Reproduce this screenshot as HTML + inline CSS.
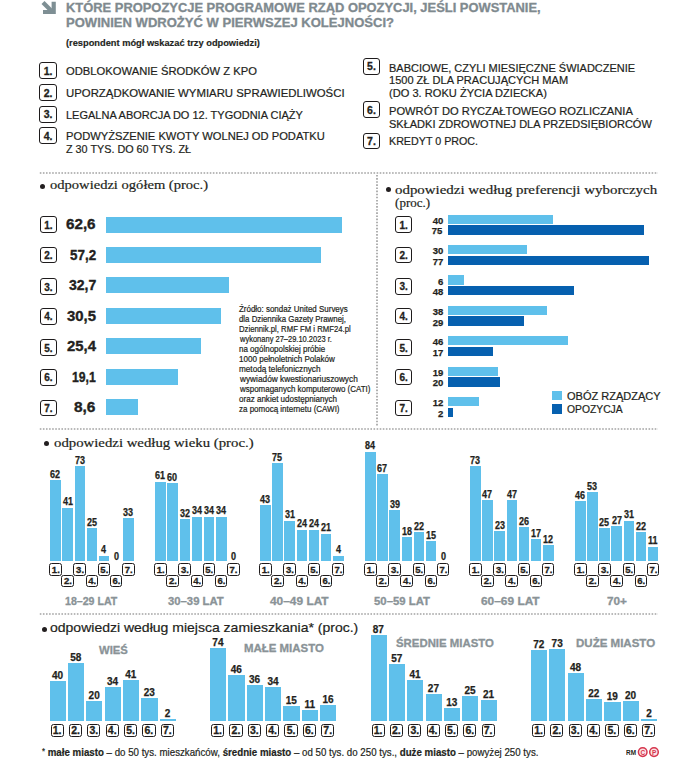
<!DOCTYPE html>
<html><head><meta charset="utf-8"><style>
html,body{margin:0;padding:0;background:#fff;}
body{width:675px;height:760px;position:relative;overflow:hidden;}
body>div[id]{position:absolute;white-space:nowrap}
.m{display:inline-block;width:0;height:0;vertical-align:baseline}
b{font-weight:bold}
</style></head><body>
<svg style="position:absolute;left:0;top:0" width="70" height="20"><polygon points="55.8,1.8 55.8,13.9 43,13.9 43,10 51.6,10 51.6,1.8" fill="#7e8f94"/><line x1="43" y1="2.5" x2="52" y2="11.5" stroke="#7e8f94" stroke-width="4.2"/></svg>
<div style="position:absolute;box-sizing:border-box;left:39.40px;top:62.20px;width:17.40px;height:17.20px;border:1.8px solid #1e1b1c;border-radius:3px;background:#fff"></div>
<div style="position:absolute;box-sizing:border-box;left:39.40px;top:84.00px;width:17.40px;height:17.00px;border:1.8px solid #1e1b1c;border-radius:3px;background:#fff"></div>
<div style="position:absolute;box-sizing:border-box;left:39.40px;top:105.80px;width:17.40px;height:17.00px;border:1.8px solid #1e1b1c;border-radius:3px;background:#fff"></div>
<div style="position:absolute;box-sizing:border-box;left:39.40px;top:127.20px;width:17.40px;height:17.00px;border:1.8px solid #1e1b1c;border-radius:3px;background:#fff"></div>
<div style="position:absolute;box-sizing:border-box;left:363.10px;top:58.00px;width:16.80px;height:16.60px;border:1.8px solid #1e1b1c;border-radius:3px;background:#fff"></div>
<div style="position:absolute;box-sizing:border-box;left:363.10px;top:101.40px;width:16.80px;height:16.80px;border:1.8px solid #1e1b1c;border-radius:3px;background:#fff"></div>
<div style="position:absolute;box-sizing:border-box;left:363.10px;top:132.60px;width:16.80px;height:16.00px;border:1.8px solid #1e1b1c;border-radius:3px;background:#fff"></div>
<svg style="position:absolute;left:0;top:171.00px" width="675" height="4"><line x1="39.80" y1="2" x2="658.00" y2="2" stroke="#a3a3a3" stroke-width="1.7" stroke-dasharray="1.6 1.490"/></svg>
<div style="position:absolute;left:39.60px;top:183.90px;width:5.4px;height:5.4px;border-radius:50%;background:#231f20"></div>
<div style="position:absolute;box-sizing:border-box;left:40.20px;top:216.30px;width:16.80px;height:16.80px;border:1.8px solid #1e1b1c;border-radius:3px;background:#fff"></div>
<div style="position:absolute;left:105.60px;top:216.50px;width:236.19px;height:16.00px;background:#5fc0eb;"></div>
<div style="position:absolute;box-sizing:border-box;left:40.20px;top:246.60px;width:16.80px;height:16.80px;border:1.8px solid #1e1b1c;border-radius:3px;background:#fff"></div>
<div style="position:absolute;left:105.60px;top:246.95px;width:215.82px;height:16.00px;background:#5fc0eb;"></div>
<div style="position:absolute;box-sizing:border-box;left:40.20px;top:278.15px;width:16.80px;height:16.80px;border:1.8px solid #1e1b1c;border-radius:3px;background:#fff"></div>
<div style="position:absolute;left:105.60px;top:277.40px;width:123.38px;height:16.00px;background:#5fc0eb;"></div>
<div style="position:absolute;box-sizing:border-box;left:40.20px;top:307.85px;width:16.80px;height:16.80px;border:1.8px solid #1e1b1c;border-radius:3px;background:#fff"></div>
<div style="position:absolute;left:105.60px;top:307.85px;width:115.08px;height:16.00px;background:#5fc0eb;"></div>
<div style="position:absolute;box-sizing:border-box;left:40.20px;top:339.35px;width:16.80px;height:16.80px;border:1.8px solid #1e1b1c;border-radius:3px;background:#fff"></div>
<div style="position:absolute;left:105.60px;top:338.30px;width:95.83px;height:16.00px;background:#5fc0eb;"></div>
<div style="position:absolute;box-sizing:border-box;left:40.20px;top:368.90px;width:16.80px;height:16.80px;border:1.8px solid #1e1b1c;border-radius:3px;background:#fff"></div>
<div style="position:absolute;left:105.60px;top:368.75px;width:72.06px;height:16.00px;background:#5fc0eb;"></div>
<div style="position:absolute;box-sizing:border-box;left:40.20px;top:399.70px;width:16.80px;height:16.80px;border:1.8px solid #1e1b1c;border-radius:3px;background:#fff"></div>
<div style="position:absolute;left:105.60px;top:399.20px;width:32.45px;height:16.00px;background:#5fc0eb;"></div>
<svg style="position:absolute;left:375.30px;top:0" width="4" height="760"><line x1="2" y1="175.00" x2="2" y2="427.00" stroke="#a3a3a3" stroke-width="1.7" stroke-dasharray="1.6 1.510"/></svg>
<div style="position:absolute;left:386.30px;top:187.00px;width:5.2px;height:5.2px;border-radius:50%;background:#231f20"></div>
<div style="position:absolute;box-sizing:border-box;left:395.30px;top:216.30px;width:17.00px;height:16.60px;border:1.8px solid #1e1b1c;border-radius:3px;background:#fff"></div>
<div style="position:absolute;left:448.10px;top:214.60px;width:104.60px;height:9.30px;background:#5fc0eb;"></div>
<div style="position:absolute;left:448.10px;top:225.20px;width:196.13px;height:9.40px;background:#0660af;"></div>
<div style="position:absolute;box-sizing:border-box;left:395.30px;top:246.60px;width:17.00px;height:16.60px;border:1.8px solid #1e1b1c;border-radius:3px;background:#fff"></div>
<div style="position:absolute;left:448.10px;top:245.00px;width:78.45px;height:9.30px;background:#5fc0eb;"></div>
<div style="position:absolute;left:448.10px;top:255.60px;width:201.36px;height:9.40px;background:#0660af;"></div>
<div style="position:absolute;box-sizing:border-box;left:395.30px;top:278.15px;width:17.00px;height:16.60px;border:1.8px solid #1e1b1c;border-radius:3px;background:#fff"></div>
<div style="position:absolute;left:448.10px;top:275.40px;width:15.69px;height:9.30px;background:#5fc0eb;"></div>
<div style="position:absolute;left:448.10px;top:286.00px;width:125.52px;height:9.40px;background:#0660af;"></div>
<div style="position:absolute;box-sizing:border-box;left:395.30px;top:307.85px;width:17.00px;height:16.60px;border:1.8px solid #1e1b1c;border-radius:3px;background:#fff"></div>
<div style="position:absolute;left:448.10px;top:305.80px;width:99.37px;height:9.30px;background:#5fc0eb;"></div>
<div style="position:absolute;left:448.10px;top:316.40px;width:75.84px;height:9.40px;background:#0660af;"></div>
<div style="position:absolute;box-sizing:border-box;left:395.30px;top:339.35px;width:17.00px;height:16.60px;border:1.8px solid #1e1b1c;border-radius:3px;background:#fff"></div>
<div style="position:absolute;left:448.10px;top:336.20px;width:120.29px;height:9.30px;background:#5fc0eb;"></div>
<div style="position:absolute;left:448.10px;top:346.80px;width:44.46px;height:9.40px;background:#0660af;"></div>
<div style="position:absolute;box-sizing:border-box;left:395.30px;top:368.90px;width:17.00px;height:16.60px;border:1.8px solid #1e1b1c;border-radius:3px;background:#fff"></div>
<div style="position:absolute;left:448.10px;top:366.60px;width:49.69px;height:9.30px;background:#5fc0eb;"></div>
<div style="position:absolute;left:448.10px;top:377.20px;width:52.30px;height:9.40px;background:#0660af;"></div>
<div style="position:absolute;box-sizing:border-box;left:395.30px;top:399.70px;width:17.00px;height:16.60px;border:1.8px solid #1e1b1c;border-radius:3px;background:#fff"></div>
<div style="position:absolute;left:448.10px;top:397.00px;width:31.38px;height:9.30px;background:#5fc0eb;"></div>
<div style="position:absolute;left:448.10px;top:407.60px;width:5.23px;height:9.40px;background:#0660af;"></div>
<div style="position:absolute;left:552.00px;top:391.00px;width:9.60px;height:9.40px;background:#5fc0eb;"></div>
<div style="position:absolute;left:552.00px;top:404.40px;width:9.60px;height:9.60px;background:#0660af;"></div>
<svg style="position:absolute;left:0;top:426.60px" width="675" height="4"><line x1="39.80" y1="2" x2="658.00" y2="2" stroke="#a3a3a3" stroke-width="1.7" stroke-dasharray="1.6 1.490"/></svg>
<div style="position:absolute;left:43.70px;top:440.80px;width:5.2px;height:5.2px;border-radius:50%;background:#231f20"></div>
<div style="position:absolute;left:50.30px;top:480.20px;width:10.60px;height:80.60px;background:#5fc0eb;"></div>
<div style="position:absolute;box-sizing:border-box;left:49.20px;top:563.20px;width:12.60px;height:12.60px;border:1.6px solid #1e1b1c;border-radius:2.5px;background:#fff"></div>
<div style="position:absolute;left:62.43px;top:507.50px;width:10.60px;height:53.30px;background:#5fc0eb;"></div>
<div style="position:absolute;box-sizing:border-box;left:61.33px;top:574.50px;width:12.60px;height:12.60px;border:1.6px solid #1e1b1c;border-radius:2.5px;background:#fff"></div>
<div style="position:absolute;left:74.56px;top:465.90px;width:10.60px;height:94.90px;background:#5fc0eb;"></div>
<div style="position:absolute;box-sizing:border-box;left:73.46px;top:563.20px;width:12.60px;height:12.60px;border:1.6px solid #1e1b1c;border-radius:2.5px;background:#fff"></div>
<div style="position:absolute;left:86.69px;top:528.30px;width:10.60px;height:32.50px;background:#5fc0eb;"></div>
<div style="position:absolute;box-sizing:border-box;left:85.59px;top:574.50px;width:12.60px;height:12.60px;border:1.6px solid #1e1b1c;border-radius:2.5px;background:#fff"></div>
<div style="position:absolute;left:98.82px;top:555.60px;width:10.60px;height:5.20px;background:#5fc0eb;"></div>
<div style="position:absolute;box-sizing:border-box;left:97.72px;top:563.20px;width:12.60px;height:12.60px;border:1.6px solid #1e1b1c;border-radius:2.5px;background:#fff"></div>
<div style="position:absolute;box-sizing:border-box;left:109.85px;top:574.50px;width:12.60px;height:12.60px;border:1.6px solid #1e1b1c;border-radius:2.5px;background:#fff"></div>
<div style="position:absolute;left:123.08px;top:517.90px;width:10.60px;height:42.90px;background:#5fc0eb;"></div>
<div style="position:absolute;box-sizing:border-box;left:121.98px;top:563.20px;width:12.60px;height:12.60px;border:1.6px solid #1e1b1c;border-radius:2.5px;background:#fff"></div>
<div style="position:absolute;left:155.26px;top:481.50px;width:10.60px;height:79.30px;background:#5fc0eb;"></div>
<div style="position:absolute;box-sizing:border-box;left:154.16px;top:563.20px;width:12.60px;height:12.60px;border:1.6px solid #1e1b1c;border-radius:2.5px;background:#fff"></div>
<div style="position:absolute;left:167.39px;top:482.80px;width:10.60px;height:78.00px;background:#5fc0eb;"></div>
<div style="position:absolute;box-sizing:border-box;left:166.29px;top:574.50px;width:12.60px;height:12.60px;border:1.6px solid #1e1b1c;border-radius:2.5px;background:#fff"></div>
<div style="position:absolute;left:179.52px;top:519.20px;width:10.60px;height:41.60px;background:#5fc0eb;"></div>
<div style="position:absolute;box-sizing:border-box;left:178.42px;top:563.20px;width:12.60px;height:12.60px;border:1.6px solid #1e1b1c;border-radius:2.5px;background:#fff"></div>
<div style="position:absolute;left:191.65px;top:516.60px;width:10.60px;height:44.20px;background:#5fc0eb;"></div>
<div style="position:absolute;box-sizing:border-box;left:190.55px;top:574.50px;width:12.60px;height:12.60px;border:1.6px solid #1e1b1c;border-radius:2.5px;background:#fff"></div>
<div style="position:absolute;left:203.78px;top:516.60px;width:10.60px;height:44.20px;background:#5fc0eb;"></div>
<div style="position:absolute;box-sizing:border-box;left:202.68px;top:563.20px;width:12.60px;height:12.60px;border:1.6px solid #1e1b1c;border-radius:2.5px;background:#fff"></div>
<div style="position:absolute;left:215.91px;top:516.60px;width:10.60px;height:44.20px;background:#5fc0eb;"></div>
<div style="position:absolute;box-sizing:border-box;left:214.81px;top:574.50px;width:12.60px;height:12.60px;border:1.6px solid #1e1b1c;border-radius:2.5px;background:#fff"></div>
<div style="position:absolute;box-sizing:border-box;left:226.94px;top:563.20px;width:12.60px;height:12.60px;border:1.6px solid #1e1b1c;border-radius:2.5px;background:#fff"></div>
<div style="position:absolute;left:260.22px;top:504.90px;width:10.60px;height:55.90px;background:#5fc0eb;"></div>
<div style="position:absolute;box-sizing:border-box;left:259.12px;top:563.20px;width:12.60px;height:12.60px;border:1.6px solid #1e1b1c;border-radius:2.5px;background:#fff"></div>
<div style="position:absolute;left:272.35px;top:463.30px;width:10.60px;height:97.50px;background:#5fc0eb;"></div>
<div style="position:absolute;box-sizing:border-box;left:271.25px;top:574.50px;width:12.60px;height:12.60px;border:1.6px solid #1e1b1c;border-radius:2.5px;background:#fff"></div>
<div style="position:absolute;left:284.48px;top:520.50px;width:10.60px;height:40.30px;background:#5fc0eb;"></div>
<div style="position:absolute;box-sizing:border-box;left:283.38px;top:563.20px;width:12.60px;height:12.60px;border:1.6px solid #1e1b1c;border-radius:2.5px;background:#fff"></div>
<div style="position:absolute;left:296.61px;top:529.60px;width:10.60px;height:31.20px;background:#5fc0eb;"></div>
<div style="position:absolute;box-sizing:border-box;left:295.51px;top:574.50px;width:12.60px;height:12.60px;border:1.6px solid #1e1b1c;border-radius:2.5px;background:#fff"></div>
<div style="position:absolute;left:308.74px;top:529.60px;width:10.60px;height:31.20px;background:#5fc0eb;"></div>
<div style="position:absolute;box-sizing:border-box;left:307.64px;top:563.20px;width:12.60px;height:12.60px;border:1.6px solid #1e1b1c;border-radius:2.5px;background:#fff"></div>
<div style="position:absolute;left:320.87px;top:533.50px;width:10.60px;height:27.30px;background:#5fc0eb;"></div>
<div style="position:absolute;box-sizing:border-box;left:319.77px;top:574.50px;width:12.60px;height:12.60px;border:1.6px solid #1e1b1c;border-radius:2.5px;background:#fff"></div>
<div style="position:absolute;left:333.00px;top:555.60px;width:10.60px;height:5.20px;background:#5fc0eb;"></div>
<div style="position:absolute;box-sizing:border-box;left:331.90px;top:563.20px;width:12.60px;height:12.60px;border:1.6px solid #1e1b1c;border-radius:2.5px;background:#fff"></div>
<div style="position:absolute;left:365.18px;top:451.60px;width:10.60px;height:109.20px;background:#5fc0eb;"></div>
<div style="position:absolute;box-sizing:border-box;left:364.08px;top:563.20px;width:12.60px;height:12.60px;border:1.6px solid #1e1b1c;border-radius:2.5px;background:#fff"></div>
<div style="position:absolute;left:377.31px;top:473.70px;width:10.60px;height:87.10px;background:#5fc0eb;"></div>
<div style="position:absolute;box-sizing:border-box;left:376.21px;top:574.50px;width:12.60px;height:12.60px;border:1.6px solid #1e1b1c;border-radius:2.5px;background:#fff"></div>
<div style="position:absolute;left:389.44px;top:510.10px;width:10.60px;height:50.70px;background:#5fc0eb;"></div>
<div style="position:absolute;box-sizing:border-box;left:388.34px;top:563.20px;width:12.60px;height:12.60px;border:1.6px solid #1e1b1c;border-radius:2.5px;background:#fff"></div>
<div style="position:absolute;left:401.57px;top:537.40px;width:10.60px;height:23.40px;background:#5fc0eb;"></div>
<div style="position:absolute;box-sizing:border-box;left:400.47px;top:574.50px;width:12.60px;height:12.60px;border:1.6px solid #1e1b1c;border-radius:2.5px;background:#fff"></div>
<div style="position:absolute;left:413.70px;top:532.20px;width:10.60px;height:28.60px;background:#5fc0eb;"></div>
<div style="position:absolute;box-sizing:border-box;left:412.60px;top:563.20px;width:12.60px;height:12.60px;border:1.6px solid #1e1b1c;border-radius:2.5px;background:#fff"></div>
<div style="position:absolute;left:425.83px;top:541.30px;width:10.60px;height:19.50px;background:#5fc0eb;"></div>
<div style="position:absolute;box-sizing:border-box;left:424.73px;top:574.50px;width:12.60px;height:12.60px;border:1.6px solid #1e1b1c;border-radius:2.5px;background:#fff"></div>
<div style="position:absolute;box-sizing:border-box;left:436.86px;top:563.20px;width:12.60px;height:12.60px;border:1.6px solid #1e1b1c;border-radius:2.5px;background:#fff"></div>
<div style="position:absolute;left:470.14px;top:465.90px;width:10.60px;height:94.90px;background:#5fc0eb;"></div>
<div style="position:absolute;box-sizing:border-box;left:469.04px;top:563.20px;width:12.60px;height:12.60px;border:1.6px solid #1e1b1c;border-radius:2.5px;background:#fff"></div>
<div style="position:absolute;left:482.27px;top:499.70px;width:10.60px;height:61.10px;background:#5fc0eb;"></div>
<div style="position:absolute;box-sizing:border-box;left:481.17px;top:574.50px;width:12.60px;height:12.60px;border:1.6px solid #1e1b1c;border-radius:2.5px;background:#fff"></div>
<div style="position:absolute;left:494.40px;top:530.90px;width:10.60px;height:29.90px;background:#5fc0eb;"></div>
<div style="position:absolute;box-sizing:border-box;left:493.30px;top:563.20px;width:12.60px;height:12.60px;border:1.6px solid #1e1b1c;border-radius:2.5px;background:#fff"></div>
<div style="position:absolute;left:506.53px;top:499.70px;width:10.60px;height:61.10px;background:#5fc0eb;"></div>
<div style="position:absolute;box-sizing:border-box;left:505.43px;top:574.50px;width:12.60px;height:12.60px;border:1.6px solid #1e1b1c;border-radius:2.5px;background:#fff"></div>
<div style="position:absolute;left:518.66px;top:527.00px;width:10.60px;height:33.80px;background:#5fc0eb;"></div>
<div style="position:absolute;box-sizing:border-box;left:517.56px;top:563.20px;width:12.60px;height:12.60px;border:1.6px solid #1e1b1c;border-radius:2.5px;background:#fff"></div>
<div style="position:absolute;left:530.79px;top:538.70px;width:10.60px;height:22.10px;background:#5fc0eb;"></div>
<div style="position:absolute;box-sizing:border-box;left:529.69px;top:574.50px;width:12.60px;height:12.60px;border:1.6px solid #1e1b1c;border-radius:2.5px;background:#fff"></div>
<div style="position:absolute;left:542.92px;top:545.20px;width:10.60px;height:15.60px;background:#5fc0eb;"></div>
<div style="position:absolute;box-sizing:border-box;left:541.82px;top:563.20px;width:12.60px;height:12.60px;border:1.6px solid #1e1b1c;border-radius:2.5px;background:#fff"></div>
<div style="position:absolute;left:575.10px;top:501.00px;width:10.60px;height:59.80px;background:#5fc0eb;"></div>
<div style="position:absolute;box-sizing:border-box;left:574.00px;top:563.20px;width:12.60px;height:12.60px;border:1.6px solid #1e1b1c;border-radius:2.5px;background:#fff"></div>
<div style="position:absolute;left:587.23px;top:491.90px;width:10.60px;height:68.90px;background:#5fc0eb;"></div>
<div style="position:absolute;box-sizing:border-box;left:586.13px;top:574.50px;width:12.60px;height:12.60px;border:1.6px solid #1e1b1c;border-radius:2.5px;background:#fff"></div>
<div style="position:absolute;left:599.36px;top:528.30px;width:10.60px;height:32.50px;background:#5fc0eb;"></div>
<div style="position:absolute;box-sizing:border-box;left:598.26px;top:563.20px;width:12.60px;height:12.60px;border:1.6px solid #1e1b1c;border-radius:2.5px;background:#fff"></div>
<div style="position:absolute;left:611.49px;top:525.70px;width:10.60px;height:35.10px;background:#5fc0eb;"></div>
<div style="position:absolute;box-sizing:border-box;left:610.39px;top:574.50px;width:12.60px;height:12.60px;border:1.6px solid #1e1b1c;border-radius:2.5px;background:#fff"></div>
<div style="position:absolute;left:623.62px;top:520.50px;width:10.60px;height:40.30px;background:#5fc0eb;"></div>
<div style="position:absolute;box-sizing:border-box;left:622.52px;top:563.20px;width:12.60px;height:12.60px;border:1.6px solid #1e1b1c;border-radius:2.5px;background:#fff"></div>
<div style="position:absolute;left:635.75px;top:532.20px;width:10.60px;height:28.60px;background:#5fc0eb;"></div>
<div style="position:absolute;box-sizing:border-box;left:634.65px;top:574.50px;width:12.60px;height:12.60px;border:1.6px solid #1e1b1c;border-radius:2.5px;background:#fff"></div>
<div style="position:absolute;left:647.88px;top:546.50px;width:10.60px;height:14.30px;background:#5fc0eb;"></div>
<div style="position:absolute;box-sizing:border-box;left:646.78px;top:563.20px;width:12.60px;height:12.60px;border:1.6px solid #1e1b1c;border-radius:2.5px;background:#fff"></div>
<svg style="position:absolute;left:0;top:612.20px" width="675" height="4"><line x1="39.80" y1="2" x2="658.00" y2="2" stroke="#a3a3a3" stroke-width="1.7" stroke-dasharray="1.6 1.490"/></svg>
<div style="position:absolute;left:41.60px;top:626.70px;width:5.0px;height:5.0px;border-radius:50%;background:#231f20"></div>
<div style="position:absolute;left:49.60px;top:681.20px;width:16.20px;height:39.40px;background:#5fc0eb;"></div>
<div style="position:absolute;box-sizing:border-box;left:50.60px;top:723.90px;width:13.20px;height:12.70px;border:1.6px solid #1e1b1c;border-radius:2.5px;background:#fff"></div>
<div style="position:absolute;left:67.95px;top:663.47px;width:16.20px;height:57.13px;background:#5fc0eb;"></div>
<div style="position:absolute;box-sizing:border-box;left:68.95px;top:723.90px;width:13.20px;height:12.70px;border:1.6px solid #1e1b1c;border-radius:2.5px;background:#fff"></div>
<div style="position:absolute;left:86.30px;top:700.90px;width:16.20px;height:19.70px;background:#5fc0eb;"></div>
<div style="position:absolute;box-sizing:border-box;left:87.30px;top:723.90px;width:13.20px;height:12.70px;border:1.6px solid #1e1b1c;border-radius:2.5px;background:#fff"></div>
<div style="position:absolute;left:104.65px;top:687.11px;width:16.20px;height:33.49px;background:#5fc0eb;"></div>
<div style="position:absolute;box-sizing:border-box;left:105.65px;top:723.90px;width:13.20px;height:12.70px;border:1.6px solid #1e1b1c;border-radius:2.5px;background:#fff"></div>
<div style="position:absolute;left:123.00px;top:680.22px;width:16.20px;height:40.38px;background:#5fc0eb;"></div>
<div style="position:absolute;box-sizing:border-box;left:124.00px;top:723.90px;width:13.20px;height:12.70px;border:1.6px solid #1e1b1c;border-radius:2.5px;background:#fff"></div>
<div style="position:absolute;left:141.35px;top:697.95px;width:16.20px;height:22.66px;background:#5fc0eb;"></div>
<div style="position:absolute;box-sizing:border-box;left:142.35px;top:723.90px;width:13.20px;height:12.70px;border:1.6px solid #1e1b1c;border-radius:2.5px;background:#fff"></div>
<div style="position:absolute;left:159.70px;top:718.63px;width:16.20px;height:1.97px;background:#5fc0eb;"></div>
<div style="position:absolute;box-sizing:border-box;left:160.70px;top:723.90px;width:13.20px;height:12.70px;border:1.6px solid #1e1b1c;border-radius:2.5px;background:#fff"></div>
<div style="position:absolute;left:210.05px;top:647.71px;width:16.20px;height:72.89px;background:#5fc0eb;"></div>
<div style="position:absolute;box-sizing:border-box;left:211.05px;top:723.90px;width:13.20px;height:12.70px;border:1.6px solid #1e1b1c;border-radius:2.5px;background:#fff"></div>
<div style="position:absolute;left:228.40px;top:675.29px;width:16.20px;height:45.31px;background:#5fc0eb;"></div>
<div style="position:absolute;box-sizing:border-box;left:229.40px;top:723.90px;width:13.20px;height:12.70px;border:1.6px solid #1e1b1c;border-radius:2.5px;background:#fff"></div>
<div style="position:absolute;left:246.75px;top:685.14px;width:16.20px;height:35.46px;background:#5fc0eb;"></div>
<div style="position:absolute;box-sizing:border-box;left:247.75px;top:723.90px;width:13.20px;height:12.70px;border:1.6px solid #1e1b1c;border-radius:2.5px;background:#fff"></div>
<div style="position:absolute;left:265.10px;top:687.11px;width:16.20px;height:33.49px;background:#5fc0eb;"></div>
<div style="position:absolute;box-sizing:border-box;left:266.10px;top:723.90px;width:13.20px;height:12.70px;border:1.6px solid #1e1b1c;border-radius:2.5px;background:#fff"></div>
<div style="position:absolute;left:283.45px;top:705.83px;width:16.20px;height:14.78px;background:#5fc0eb;"></div>
<div style="position:absolute;box-sizing:border-box;left:284.45px;top:723.90px;width:13.20px;height:12.70px;border:1.6px solid #1e1b1c;border-radius:2.5px;background:#fff"></div>
<div style="position:absolute;left:301.80px;top:709.76px;width:16.20px;height:10.83px;background:#5fc0eb;"></div>
<div style="position:absolute;box-sizing:border-box;left:302.80px;top:723.90px;width:13.20px;height:12.70px;border:1.6px solid #1e1b1c;border-radius:2.5px;background:#fff"></div>
<div style="position:absolute;left:320.15px;top:704.84px;width:16.20px;height:15.76px;background:#5fc0eb;"></div>
<div style="position:absolute;box-sizing:border-box;left:321.15px;top:723.90px;width:13.20px;height:12.70px;border:1.6px solid #1e1b1c;border-radius:2.5px;background:#fff"></div>
<div style="position:absolute;left:370.50px;top:634.90px;width:16.20px;height:85.69px;background:#5fc0eb;"></div>
<div style="position:absolute;box-sizing:border-box;left:371.50px;top:723.90px;width:13.20px;height:12.70px;border:1.6px solid #1e1b1c;border-radius:2.5px;background:#fff"></div>
<div style="position:absolute;left:388.85px;top:664.46px;width:16.20px;height:56.14px;background:#5fc0eb;"></div>
<div style="position:absolute;box-sizing:border-box;left:389.85px;top:723.90px;width:13.20px;height:12.70px;border:1.6px solid #1e1b1c;border-radius:2.5px;background:#fff"></div>
<div style="position:absolute;left:407.20px;top:680.22px;width:16.20px;height:40.38px;background:#5fc0eb;"></div>
<div style="position:absolute;box-sizing:border-box;left:408.20px;top:723.90px;width:13.20px;height:12.70px;border:1.6px solid #1e1b1c;border-radius:2.5px;background:#fff"></div>
<div style="position:absolute;left:425.55px;top:694.00px;width:16.20px;height:26.59px;background:#5fc0eb;"></div>
<div style="position:absolute;box-sizing:border-box;left:426.55px;top:723.90px;width:13.20px;height:12.70px;border:1.6px solid #1e1b1c;border-radius:2.5px;background:#fff"></div>
<div style="position:absolute;left:443.90px;top:707.80px;width:16.20px;height:12.80px;background:#5fc0eb;"></div>
<div style="position:absolute;box-sizing:border-box;left:444.90px;top:723.90px;width:13.20px;height:12.70px;border:1.6px solid #1e1b1c;border-radius:2.5px;background:#fff"></div>
<div style="position:absolute;left:462.25px;top:695.98px;width:16.20px;height:24.62px;background:#5fc0eb;"></div>
<div style="position:absolute;box-sizing:border-box;left:463.25px;top:723.90px;width:13.20px;height:12.70px;border:1.6px solid #1e1b1c;border-radius:2.5px;background:#fff"></div>
<div style="position:absolute;left:480.60px;top:699.92px;width:16.20px;height:20.68px;background:#5fc0eb;"></div>
<div style="position:absolute;box-sizing:border-box;left:481.60px;top:723.90px;width:13.20px;height:12.70px;border:1.6px solid #1e1b1c;border-radius:2.5px;background:#fff"></div>
<div style="position:absolute;left:530.95px;top:649.68px;width:16.20px;height:70.92px;background:#5fc0eb;"></div>
<div style="position:absolute;box-sizing:border-box;left:531.95px;top:723.90px;width:13.20px;height:12.70px;border:1.6px solid #1e1b1c;border-radius:2.5px;background:#fff"></div>
<div style="position:absolute;left:549.30px;top:648.70px;width:16.20px;height:71.91px;background:#5fc0eb;"></div>
<div style="position:absolute;box-sizing:border-box;left:550.30px;top:723.90px;width:13.20px;height:12.70px;border:1.6px solid #1e1b1c;border-radius:2.5px;background:#fff"></div>
<div style="position:absolute;left:567.65px;top:673.32px;width:16.20px;height:47.28px;background:#5fc0eb;"></div>
<div style="position:absolute;box-sizing:border-box;left:568.65px;top:723.90px;width:13.20px;height:12.70px;border:1.6px solid #1e1b1c;border-radius:2.5px;background:#fff"></div>
<div style="position:absolute;left:586.00px;top:698.93px;width:16.20px;height:21.67px;background:#5fc0eb;"></div>
<div style="position:absolute;box-sizing:border-box;left:587.00px;top:723.90px;width:13.20px;height:12.70px;border:1.6px solid #1e1b1c;border-radius:2.5px;background:#fff"></div>
<div style="position:absolute;left:604.35px;top:701.88px;width:16.20px;height:18.71px;background:#5fc0eb;"></div>
<div style="position:absolute;box-sizing:border-box;left:605.35px;top:723.90px;width:13.20px;height:12.70px;border:1.6px solid #1e1b1c;border-radius:2.5px;background:#fff"></div>
<div style="position:absolute;left:622.70px;top:700.90px;width:16.20px;height:19.70px;background:#5fc0eb;"></div>
<div style="position:absolute;box-sizing:border-box;left:623.70px;top:723.90px;width:13.20px;height:12.70px;border:1.6px solid #1e1b1c;border-radius:2.5px;background:#fff"></div>
<div style="position:absolute;left:641.05px;top:718.63px;width:16.20px;height:1.97px;background:#5fc0eb;"></div>
<div style="position:absolute;box-sizing:border-box;left:642.05px;top:723.90px;width:13.20px;height:12.70px;border:1.6px solid #1e1b1c;border-radius:2.5px;background:#fff"></div>
<svg style="position:absolute;left:636px;top:745px" width="25" height="15"><circle cx="6.7" cy="7.1" r="4.3" fill="#fbe3e6" stroke="#d6364d" stroke-width="1.5"/><circle cx="18" cy="7.1" r="4.3" fill="#fbe3e6" stroke="#d6364d" stroke-width="1.5"/><text x="6.8" y="9.6" font-family="Liberation Sans" font-weight="bold" font-size="6.5" fill="#d6364d" text-anchor="middle">C</text><text x="18.2" y="9.6" font-family="Liberation Sans" font-weight="bold" font-size="6.5" fill="#d6364d" text-anchor="middle">P</text></svg>
<div id="t0" style="left:66.20px;top:2.11px;font:bold 12px/12px 'Liberation Sans', sans-serif;color:#7f8a8f;transform:scaleX(1.0759);transform-origin:0 0;-webkit-text-stroke:0.3px #7f8a8f;">KTÓRE PROPOZYCJE PROGRAMOWE RZĄD OPOZYCJI, JEŚLI POWSTANIE,</div>
<div id="t1" style="left:66.20px;top:17.11px;font:bold 12px/12px 'Liberation Sans', sans-serif;color:#7f8a8f;transform:scaleX(1.0870);transform-origin:0 0;-webkit-text-stroke:0.3px #7f8a8f;">POWINIEN WDROŻYĆ W PIERWSZEJ KOLEJNOŚCI?</div>
<div id="t2" style="left:65.60px;top:38.61px;font:bold 9px/9px 'Liberation Sans', sans-serif;color:#231f20;transform:scaleX(1.0307);transform-origin:0 0;-webkit-text-stroke:0.15px #231f20;">(respondent mógł wskazać trzy odpowiedzi)</div>
<div id="t3" style="left:43.68px;top:65.71px;font:bold 10.5px/10.5px 'Liberation Sans', sans-serif;color:#231f20;-webkit-text-stroke:0.3px #231f20;">1.</div>
<div id="t4" style="left:43.68px;top:87.50px;font:bold 10.5px/10.5px 'Liberation Sans', sans-serif;color:#231f20;-webkit-text-stroke:0.3px #231f20;">2.</div>
<div id="t5" style="left:43.68px;top:109.30px;font:bold 10.5px/10.5px 'Liberation Sans', sans-serif;color:#231f20;-webkit-text-stroke:0.3px #231f20;">3.</div>
<div id="t6" style="left:43.68px;top:130.71px;font:bold 10.5px/10.5px 'Liberation Sans', sans-serif;color:#231f20;-webkit-text-stroke:0.3px #231f20;">4.</div>
<div id="t7" style="left:65.50px;top:66.01px;font:normal 11px/11px 'Liberation Sans', sans-serif;color:#231f20;transform:scaleX(1.0198);transform-origin:0 0;-webkit-text-stroke:0.2px #231f20;">ODBLOKOWANIE ŚRODKÓW Z KPO</div>
<div id="t8" style="left:65.50px;top:87.90px;font:normal 11px/11px 'Liberation Sans', sans-serif;color:#231f20;transform:scaleX(1.0343);transform-origin:0 0;-webkit-text-stroke:0.2px #231f20;">UPORZĄDKOWANIE WYMIARU SPRAWIEDLIWOŚCI</div>
<div id="t9" style="left:65.50px;top:109.51px;font:normal 11px/11px 'Liberation Sans', sans-serif;color:#231f20;transform:scaleX(0.9993);transform-origin:0 0;-webkit-text-stroke:0.2px #231f20;">LEGALNA ABORCJA DO 12. TYGODNIA CIĄŻY</div>
<div id="t10" style="left:65.50px;top:130.71px;font:normal 11px/11px 'Liberation Sans', sans-serif;color:#231f20;transform:scaleX(1.0148);transform-origin:0 0;-webkit-text-stroke:0.2px #231f20;">PODWYŻSZENIE KWOTY WOLNEJ OD PODATKU</div>
<div id="t11" style="left:65.50px;top:143.60px;font:normal 11px/11px 'Liberation Sans', sans-serif;color:#231f20;transform:scaleX(0.9815);transform-origin:0 0;-webkit-text-stroke:0.2px #231f20;">Z 30 TYS. DO 60 TYS. ZŁ</div>
<div id="t12" style="left:367.08px;top:61.41px;font:bold 10.5px/10.5px 'Liberation Sans', sans-serif;color:#231f20;-webkit-text-stroke:0.3px #231f20;">5.</div>
<div id="t13" style="left:367.08px;top:105.00px;font:bold 10.5px/10.5px 'Liberation Sans', sans-serif;color:#231f20;-webkit-text-stroke:0.3px #231f20;">6.</div>
<div id="t14" style="left:367.08px;top:135.80px;font:bold 10.5px/10.5px 'Liberation Sans', sans-serif;color:#231f20;-webkit-text-stroke:0.3px #231f20;">7.</div>
<div id="t15" style="left:389.30px;top:62.71px;font:normal 11px/11px 'Liberation Sans', sans-serif;color:#231f20;transform:scaleX(0.9993);transform-origin:0 0;-webkit-text-stroke:0.2px #231f20;">BABCIOWE, CZYLI MIESIĘCZNE ŚWIADCZENIE</div>
<div id="t16" style="left:389.30px;top:75.31px;font:normal 11px/11px 'Liberation Sans', sans-serif;color:#231f20;transform:scaleX(1.0032);transform-origin:0 0;-webkit-text-stroke:0.2px #231f20;">1500 ZŁ DLA PRACUJĄCYCH MAM</div>
<div id="t17" style="left:389.30px;top:87.60px;font:normal 11px/11px 'Liberation Sans', sans-serif;color:#231f20;transform:scaleX(1.0089);transform-origin:0 0;-webkit-text-stroke:0.2px #231f20;">(DO 3. ROKU ŻYCIA DZIECKA)</div>
<div id="t18" style="left:389.30px;top:106.40px;font:normal 11px/11px 'Liberation Sans', sans-serif;color:#231f20;transform:scaleX(1.0125);transform-origin:0 0;-webkit-text-stroke:0.2px #231f20;">POWRÓT DO RYCZAŁTOWEGO ROZLICZANIA</div>
<div id="t19" style="left:389.30px;top:119.31px;font:normal 11px/11px 'Liberation Sans', sans-serif;color:#231f20;transform:scaleX(0.9998);transform-origin:0 0;-webkit-text-stroke:0.2px #231f20;">SKŁADKI ZDROWOTNEJ DLA PRZEDSIĘBIORCÓW</div>
<div id="t20" style="left:389.30px;top:135.90px;font:normal 11px/11px 'Liberation Sans', sans-serif;color:#231f20;transform:scaleX(0.9733);transform-origin:0 0;-webkit-text-stroke:0.2px #231f20;">KREDYT 0 PROC.</div>
<div id="t21" style="left:50.10px;top:178.01px;font:normal 13px/13px 'Liberation Serif', serif;color:#231f20;transform:scaleX(1.1198);transform-origin:0 0;-webkit-text-stroke:0.2px #231f20;">odpowiedzi ogółem (proc.)</div>
<div id="t22" style="left:44.32px;top:220.71px;font:bold 10px/10px 'Liberation Sans', sans-serif;color:#231f20;-webkit-text-stroke:0.3px #231f20;">1.</div>
<div id="t23" style="left:66.20px;top:217.31px;font:bold 14px/14px 'Liberation Sans', sans-serif;color:#231f20;transform:scaleX(1.0851);transform-origin:0 0;-webkit-text-stroke:0.35px #231f20;">62,6</div>
<div id="t24" style="left:44.32px;top:251.00px;font:bold 10px/10px 'Liberation Sans', sans-serif;color:#231f20;-webkit-text-stroke:0.3px #231f20;">2.</div>
<div id="t25" style="left:69.70px;top:247.76px;font:bold 14px/14px 'Liberation Sans', sans-serif;color:#231f20;transform:scaleX(0.9576);transform-origin:0 0;-webkit-text-stroke:0.35px #231f20;">57,2</div>
<div id="t26" style="left:44.32px;top:282.55px;font:bold 10px/10px 'Liberation Sans', sans-serif;color:#231f20;-webkit-text-stroke:0.3px #231f20;">3.</div>
<div id="t27" style="left:68.50px;top:278.20px;font:bold 14px/14px 'Liberation Sans', sans-serif;color:#231f20;transform:scaleX(1.0013);transform-origin:0 0;-webkit-text-stroke:0.35px #231f20;">32,7</div>
<div id="t28" style="left:44.32px;top:312.25px;font:bold 10px/10px 'Liberation Sans', sans-serif;color:#231f20;-webkit-text-stroke:0.3px #231f20;">4.</div>
<div id="t29" style="left:66.80px;top:308.65px;font:bold 14px/14px 'Liberation Sans', sans-serif;color:#231f20;transform:scaleX(1.0632);transform-origin:0 0;-webkit-text-stroke:0.35px #231f20;">30,5</div>
<div id="t30" style="left:44.32px;top:343.75px;font:bold 10px/10px 'Liberation Sans', sans-serif;color:#231f20;-webkit-text-stroke:0.3px #231f20;">5.</div>
<div id="t31" style="left:66.80px;top:339.11px;font:bold 14px/14px 'Liberation Sans', sans-serif;color:#231f20;transform:scaleX(1.0632);transform-origin:0 0;-webkit-text-stroke:0.35px #231f20;">25,4</div>
<div id="t32" style="left:44.32px;top:373.30px;font:bold 10px/10px 'Liberation Sans', sans-serif;color:#231f20;-webkit-text-stroke:0.3px #231f20;">6.</div>
<div id="t33" style="left:72.00px;top:369.56px;font:bold 14px/14px 'Liberation Sans', sans-serif;color:#231f20;transform:scaleX(0.8739);transform-origin:0 0;-webkit-text-stroke:0.35px #231f20;">19,1</div>
<div id="t34" style="left:44.32px;top:404.11px;font:bold 10px/10px 'Liberation Sans', sans-serif;color:#231f20;-webkit-text-stroke:0.3px #231f20;">7.</div>
<div id="t35" style="left:74.30px;top:400.01px;font:bold 14px/14px 'Liberation Sans', sans-serif;color:#231f20;transform:scaleX(1.1025);transform-origin:0 0;-webkit-text-stroke:0.35px #231f20;">8,6</div>
<div id="t36" style="left:239.00px;top:304.81px;font:normal 8.5px/8.5px 'Liberation Sans', sans-serif;color:#231f20;transform:scaleX(0.9355);transform-origin:0 0;-webkit-text-stroke:0.2px #231f20;">Źródło: sondaż United Surveys</div>
<div id="t37" style="left:239.00px;top:314.84px;font:normal 8.5px/8.5px 'Liberation Sans', sans-serif;color:#231f20;transform:scaleX(0.9237);transform-origin:0 0;-webkit-text-stroke:0.2px #231f20;">dla Dziennika Gazety Prawnej,</div>
<div id="t38" style="left:239.00px;top:324.85px;font:normal 8.5px/8.5px 'Liberation Sans', sans-serif;color:#231f20;transform:scaleX(0.9095);transform-origin:0 0;-webkit-text-stroke:0.2px #231f20;">Dziennik.pl, RMF FM i RMF24.pl</div>
<div id="t39" style="left:239.88px;top:334.87px;font:normal 8.5px/8.5px 'Liberation Sans', sans-serif;color:#231f20;transform:scaleX(0.8833);transform-origin:0 0;-webkit-text-stroke:0.2px #231f20;">wykonany 27–29.10.2023 r.</div>
<div id="t40" style="left:239.00px;top:344.89px;font:normal 8.5px/8.5px 'Liberation Sans', sans-serif;color:#231f20;transform:scaleX(0.9406);transform-origin:0 0;-webkit-text-stroke:0.2px #231f20;">na ogólnopolskiej próbie</div>
<div id="t41" style="left:239.00px;top:354.92px;font:normal 8.5px/8.5px 'Liberation Sans', sans-serif;color:#231f20;transform:scaleX(0.9480);transform-origin:0 0;-webkit-text-stroke:0.2px #231f20;">1000 pełnoletnich Polaków</div>
<div id="t42" style="left:239.00px;top:364.93px;font:normal 8.5px/8.5px 'Liberation Sans', sans-serif;color:#231f20;transform:scaleX(0.9629);transform-origin:0 0;-webkit-text-stroke:0.2px #231f20;">metodą telefonicznych</div>
<div id="t43" style="left:239.97px;top:374.95px;font:normal 8.5px/8.5px 'Liberation Sans', sans-serif;color:#231f20;transform:scaleX(0.9737);transform-origin:0 0;-webkit-text-stroke:0.2px #231f20;">wywiadów kwestionariuszowych</div>
<div id="t44" style="left:239.94px;top:384.96px;font:normal 8.5px/8.5px 'Liberation Sans', sans-serif;color:#231f20;transform:scaleX(0.9368);transform-origin:0 0;-webkit-text-stroke:0.2px #231f20;">wspomaganych komputerowo (CATI)</div>
<div id="t45" style="left:239.00px;top:394.99px;font:normal 8.5px/8.5px 'Liberation Sans', sans-serif;color:#231f20;transform:scaleX(0.9473);transform-origin:0 0;-webkit-text-stroke:0.2px #231f20;">oraz ankiet udostępnianych</div>
<div id="t46" style="left:239.00px;top:405.01px;font:normal 8.5px/8.5px 'Liberation Sans', sans-serif;color:#231f20;transform:scaleX(0.9403);transform-origin:0 0;-webkit-text-stroke:0.2px #231f20;">za pomocą internetu (CAWI)</div>
<div id="t47" style="left:395.10px;top:182.80px;font:normal 13px/13px 'Liberation Serif', serif;color:#231f20;transform:scaleX(1.1472);transform-origin:0 0;-webkit-text-stroke:0.2px #231f20;">odpowiedzi według preferencji wyborczych</div>
<div id="t48" style="left:395.10px;top:195.80px;font:normal 13px/13px 'Liberation Serif', serif;color:#231f20;-webkit-text-stroke:0.2px #231f20;">(proc.)</div>
<div id="t49" style="left:399.52px;top:220.61px;font:bold 10px/10px 'Liberation Sans', sans-serif;color:#231f20;-webkit-text-stroke:0.3px #231f20;">1.</div>
<div id="t50" style="left:432.81px;top:215.81px;font:bold 9.5px/9.5px 'Liberation Sans', sans-serif;color:#231f20;-webkit-text-stroke:0.25px #231f20;">40</div>
<div id="t51" style="left:431.81px;top:226.40px;font:bold 9.5px/9.5px 'Liberation Sans', sans-serif;color:#231f20;-webkit-text-stroke:0.25px #231f20;">75</div>
<div id="t52" style="left:399.52px;top:250.91px;font:bold 10px/10px 'Liberation Sans', sans-serif;color:#231f20;-webkit-text-stroke:0.3px #231f20;">2.</div>
<div id="t53" style="left:432.81px;top:246.22px;font:bold 9.5px/9.5px 'Liberation Sans', sans-serif;color:#231f20;-webkit-text-stroke:0.25px #231f20;">30</div>
<div id="t54" style="left:432.81px;top:256.81px;font:bold 9.5px/9.5px 'Liberation Sans', sans-serif;color:#231f20;-webkit-text-stroke:0.25px #231f20;">77</div>
<div id="t55" style="left:399.52px;top:282.46px;font:bold 10px/10px 'Liberation Sans', sans-serif;color:#231f20;-webkit-text-stroke:0.3px #231f20;">3.</div>
<div id="t56" style="left:438.09px;top:276.61px;font:bold 9.5px/9.5px 'Liberation Sans', sans-serif;color:#231f20;-webkit-text-stroke:0.25px #231f20;">6</div>
<div id="t57" style="left:432.81px;top:287.22px;font:bold 9.5px/9.5px 'Liberation Sans', sans-serif;color:#231f20;-webkit-text-stroke:0.25px #231f20;">48</div>
<div id="t58" style="left:399.52px;top:312.16px;font:bold 10px/10px 'Liberation Sans', sans-serif;color:#231f20;-webkit-text-stroke:0.3px #231f20;">4.</div>
<div id="t59" style="left:432.81px;top:307.02px;font:bold 9.5px/9.5px 'Liberation Sans', sans-serif;color:#231f20;-webkit-text-stroke:0.25px #231f20;">38</div>
<div id="t60" style="left:432.81px;top:317.61px;font:bold 9.5px/9.5px 'Liberation Sans', sans-serif;color:#231f20;-webkit-text-stroke:0.25px #231f20;">29</div>
<div id="t61" style="left:399.52px;top:343.66px;font:bold 10px/10px 'Liberation Sans', sans-serif;color:#231f20;-webkit-text-stroke:0.3px #231f20;">5.</div>
<div id="t62" style="left:432.81px;top:337.41px;font:bold 9.5px/9.5px 'Liberation Sans', sans-serif;color:#231f20;-webkit-text-stroke:0.25px #231f20;">46</div>
<div id="t63" style="left:432.81px;top:348.00px;font:bold 9.5px/9.5px 'Liberation Sans', sans-serif;color:#231f20;-webkit-text-stroke:0.25px #231f20;">17</div>
<div id="t64" style="left:399.52px;top:373.21px;font:bold 10px/10px 'Liberation Sans', sans-serif;color:#231f20;-webkit-text-stroke:0.3px #231f20;">6.</div>
<div id="t65" style="left:432.81px;top:367.81px;font:bold 9.5px/9.5px 'Liberation Sans', sans-serif;color:#231f20;-webkit-text-stroke:0.25px #231f20;">19</div>
<div id="t66" style="left:432.81px;top:378.40px;font:bold 9.5px/9.5px 'Liberation Sans', sans-serif;color:#231f20;-webkit-text-stroke:0.25px #231f20;">20</div>
<div id="t67" style="left:399.52px;top:404.00px;font:bold 10px/10px 'Liberation Sans', sans-serif;color:#231f20;-webkit-text-stroke:0.3px #231f20;">7.</div>
<div id="t68" style="left:432.81px;top:398.22px;font:bold 9.5px/9.5px 'Liberation Sans', sans-serif;color:#231f20;-webkit-text-stroke:0.25px #231f20;">12</div>
<div id="t69" style="left:438.09px;top:408.81px;font:bold 9.5px/9.5px 'Liberation Sans', sans-serif;color:#231f20;-webkit-text-stroke:0.25px #231f20;">2</div>
<div id="t70" style="left:567.00px;top:391.61px;font:normal 10px/10px 'Liberation Sans', sans-serif;color:#231f20;transform:scaleX(1.1014);transform-origin:0 0;-webkit-text-stroke:0.2px #231f20;">OBÓZ RZĄDZĄCY</div>
<div id="t71" style="left:567.00px;top:405.00px;font:normal 10px/10px 'Liberation Sans', sans-serif;color:#231f20;transform:scaleX(1.0325);transform-origin:0 0;-webkit-text-stroke:0.2px #231f20;">OPOZYCJA</div>
<div id="t72" style="left:53.70px;top:435.71px;font:normal 13px/13px 'Liberation Serif', serif;color:#231f20;transform:scaleX(1.1375);transform-origin:0 0;-webkit-text-stroke:0.2px #231f20;">odpowiedzi według wieku (proc.)</div>
<div id="t73" style="left:50.40px;top:470.00px;font:bold 10px/10px 'Liberation Sans', sans-serif;color:#231f20;transform:scaleX(0.9000);transform-origin:0 0;-webkit-text-stroke:0.25px #231f20;">62</div>
<div id="t74" style="left:51.85px;top:564.72px;font:bold 9.5px/9.5px 'Liberation Sans', sans-serif;color:#231f20;-webkit-text-stroke:0.3px #231f20;">1.</div>
<div id="t75" style="left:62.53px;top:497.30px;font:bold 10px/10px 'Liberation Sans', sans-serif;color:#231f20;transform:scaleX(0.9000);transform-origin:0 0;-webkit-text-stroke:0.25px #231f20;">41</div>
<div id="t76" style="left:63.98px;top:576.31px;font:bold 9.5px/9.5px 'Liberation Sans', sans-serif;color:#231f20;-webkit-text-stroke:0.3px #231f20;">2.</div>
<div id="t77" style="left:74.66px;top:455.71px;font:bold 10px/10px 'Liberation Sans', sans-serif;color:#231f20;transform:scaleX(0.9000);transform-origin:0 0;-webkit-text-stroke:0.25px #231f20;">73</div>
<div id="t78" style="left:76.11px;top:564.72px;font:bold 9.5px/9.5px 'Liberation Sans', sans-serif;color:#231f20;-webkit-text-stroke:0.3px #231f20;">3.</div>
<div id="t79" style="left:86.79px;top:518.11px;font:bold 10px/10px 'Liberation Sans', sans-serif;color:#231f20;transform:scaleX(0.9000);transform-origin:0 0;-webkit-text-stroke:0.25px #231f20;">25</div>
<div id="t80" style="left:88.24px;top:576.31px;font:bold 9.5px/9.5px 'Liberation Sans', sans-serif;color:#231f20;-webkit-text-stroke:0.3px #231f20;">4.</div>
<div id="t81" style="left:101.42px;top:545.41px;font:bold 10px/10px 'Liberation Sans', sans-serif;color:#231f20;transform:scaleX(0.9000);transform-origin:0 0;-webkit-text-stroke:0.25px #231f20;">4</div>
<div id="t82" style="left:100.37px;top:564.72px;font:bold 9.5px/9.5px 'Liberation Sans', sans-serif;color:#231f20;-webkit-text-stroke:0.3px #231f20;">5.</div>
<div id="t83" style="left:113.55px;top:552.30px;font:bold 10px/10px 'Liberation Sans', sans-serif;color:#231f20;transform:scaleX(0.9000);transform-origin:0 0;-webkit-text-stroke:0.25px #231f20;">0</div>
<div id="t84" style="left:112.50px;top:576.31px;font:bold 9.5px/9.5px 'Liberation Sans', sans-serif;color:#231f20;-webkit-text-stroke:0.3px #231f20;">6.</div>
<div id="t85" style="left:123.18px;top:507.71px;font:bold 10px/10px 'Liberation Sans', sans-serif;color:#231f20;transform:scaleX(0.9000);transform-origin:0 0;-webkit-text-stroke:0.25px #231f20;">33</div>
<div id="t86" style="left:124.63px;top:564.72px;font:bold 9.5px/9.5px 'Liberation Sans', sans-serif;color:#231f20;-webkit-text-stroke:0.3px #231f20;">7.</div>
<div id="t87" style="left:65.30px;top:595.50px;font:bold 10.5px/10.5px 'Liberation Sans', sans-serif;color:#8a9397;transform:scaleX(1.0108);transform-origin:0 0;-webkit-text-stroke:0.3px #8a9397;">18–29 LAT</div>
<div id="t88" style="left:155.36px;top:471.30px;font:bold 10px/10px 'Liberation Sans', sans-serif;color:#231f20;transform:scaleX(0.9000);transform-origin:0 0;-webkit-text-stroke:0.25px #231f20;">61</div>
<div id="t89" style="left:156.81px;top:564.72px;font:bold 9.5px/9.5px 'Liberation Sans', sans-serif;color:#231f20;-webkit-text-stroke:0.3px #231f20;">1.</div>
<div id="t90" style="left:167.49px;top:472.61px;font:bold 10px/10px 'Liberation Sans', sans-serif;color:#231f20;transform:scaleX(0.9000);transform-origin:0 0;-webkit-text-stroke:0.25px #231f20;">60</div>
<div id="t91" style="left:168.94px;top:576.31px;font:bold 9.5px/9.5px 'Liberation Sans', sans-serif;color:#231f20;-webkit-text-stroke:0.3px #231f20;">2.</div>
<div id="t92" style="left:179.62px;top:509.00px;font:bold 10px/10px 'Liberation Sans', sans-serif;color:#231f20;transform:scaleX(0.9000);transform-origin:0 0;-webkit-text-stroke:0.25px #231f20;">32</div>
<div id="t93" style="left:181.07px;top:564.72px;font:bold 9.5px/9.5px 'Liberation Sans', sans-serif;color:#231f20;-webkit-text-stroke:0.3px #231f20;">3.</div>
<div id="t94" style="left:191.75px;top:506.41px;font:bold 10px/10px 'Liberation Sans', sans-serif;color:#231f20;transform:scaleX(0.9000);transform-origin:0 0;-webkit-text-stroke:0.25px #231f20;">34</div>
<div id="t95" style="left:193.20px;top:576.31px;font:bold 9.5px/9.5px 'Liberation Sans', sans-serif;color:#231f20;-webkit-text-stroke:0.3px #231f20;">4.</div>
<div id="t96" style="left:203.88px;top:506.41px;font:bold 10px/10px 'Liberation Sans', sans-serif;color:#231f20;transform:scaleX(0.9000);transform-origin:0 0;-webkit-text-stroke:0.25px #231f20;">34</div>
<div id="t97" style="left:205.33px;top:564.72px;font:bold 9.5px/9.5px 'Liberation Sans', sans-serif;color:#231f20;-webkit-text-stroke:0.3px #231f20;">5.</div>
<div id="t98" style="left:216.01px;top:506.41px;font:bold 10px/10px 'Liberation Sans', sans-serif;color:#231f20;transform:scaleX(0.9000);transform-origin:0 0;-webkit-text-stroke:0.25px #231f20;">34</div>
<div id="t99" style="left:217.46px;top:576.31px;font:bold 9.5px/9.5px 'Liberation Sans', sans-serif;color:#231f20;-webkit-text-stroke:0.3px #231f20;">6.</div>
<div id="t100" style="left:230.64px;top:552.30px;font:bold 10px/10px 'Liberation Sans', sans-serif;color:#231f20;transform:scaleX(0.9000);transform-origin:0 0;-webkit-text-stroke:0.25px #231f20;">0</div>
<div id="t101" style="left:229.59px;top:564.72px;font:bold 9.5px/9.5px 'Liberation Sans', sans-serif;color:#231f20;-webkit-text-stroke:0.3px #231f20;">7.</div>
<div id="t102" style="left:168.40px;top:595.50px;font:bold 10.5px/10.5px 'Liberation Sans', sans-serif;color:#8a9397;transform:scaleX(1.0757);transform-origin:0 0;-webkit-text-stroke:0.3px #8a9397;">30–39 LAT</div>
<div id="t103" style="left:260.32px;top:494.71px;font:bold 10px/10px 'Liberation Sans', sans-serif;color:#231f20;transform:scaleX(0.9000);transform-origin:0 0;-webkit-text-stroke:0.25px #231f20;">43</div>
<div id="t104" style="left:261.77px;top:564.72px;font:bold 9.5px/9.5px 'Liberation Sans', sans-serif;color:#231f20;-webkit-text-stroke:0.3px #231f20;">1.</div>
<div id="t105" style="left:272.45px;top:453.11px;font:bold 10px/10px 'Liberation Sans', sans-serif;color:#231f20;transform:scaleX(0.9000);transform-origin:0 0;-webkit-text-stroke:0.25px #231f20;">75</div>
<div id="t106" style="left:273.90px;top:576.31px;font:bold 9.5px/9.5px 'Liberation Sans', sans-serif;color:#231f20;-webkit-text-stroke:0.3px #231f20;">2.</div>
<div id="t107" style="left:284.58px;top:510.30px;font:bold 10px/10px 'Liberation Sans', sans-serif;color:#231f20;transform:scaleX(0.9000);transform-origin:0 0;-webkit-text-stroke:0.25px #231f20;">31</div>
<div id="t108" style="left:286.03px;top:564.72px;font:bold 9.5px/9.5px 'Liberation Sans', sans-serif;color:#231f20;-webkit-text-stroke:0.3px #231f20;">3.</div>
<div id="t109" style="left:296.71px;top:519.41px;font:bold 10px/10px 'Liberation Sans', sans-serif;color:#231f20;transform:scaleX(0.9000);transform-origin:0 0;-webkit-text-stroke:0.25px #231f20;">24</div>
<div id="t110" style="left:298.16px;top:576.31px;font:bold 9.5px/9.5px 'Liberation Sans', sans-serif;color:#231f20;-webkit-text-stroke:0.3px #231f20;">4.</div>
<div id="t111" style="left:308.84px;top:519.41px;font:bold 10px/10px 'Liberation Sans', sans-serif;color:#231f20;transform:scaleX(0.9000);transform-origin:0 0;-webkit-text-stroke:0.25px #231f20;">24</div>
<div id="t112" style="left:310.29px;top:564.72px;font:bold 9.5px/9.5px 'Liberation Sans', sans-serif;color:#231f20;-webkit-text-stroke:0.3px #231f20;">5.</div>
<div id="t113" style="left:320.97px;top:523.30px;font:bold 10px/10px 'Liberation Sans', sans-serif;color:#231f20;transform:scaleX(0.9000);transform-origin:0 0;-webkit-text-stroke:0.25px #231f20;">21</div>
<div id="t114" style="left:322.42px;top:576.31px;font:bold 9.5px/9.5px 'Liberation Sans', sans-serif;color:#231f20;-webkit-text-stroke:0.3px #231f20;">6.</div>
<div id="t115" style="left:335.60px;top:545.41px;font:bold 10px/10px 'Liberation Sans', sans-serif;color:#231f20;transform:scaleX(0.9000);transform-origin:0 0;-webkit-text-stroke:0.25px #231f20;">4</div>
<div id="t116" style="left:334.55px;top:564.72px;font:bold 9.5px/9.5px 'Liberation Sans', sans-serif;color:#231f20;-webkit-text-stroke:0.3px #231f20;">7.</div>
<div id="t117" style="left:270.00px;top:595.50px;font:bold 10.5px/10.5px 'Liberation Sans', sans-serif;color:#8a9397;transform:scaleX(1.1331);transform-origin:0 0;-webkit-text-stroke:0.3px #8a9397;">40–49 LAT</div>
<div id="t118" style="left:365.28px;top:441.41px;font:bold 10px/10px 'Liberation Sans', sans-serif;color:#231f20;transform:scaleX(0.9000);transform-origin:0 0;-webkit-text-stroke:0.25px #231f20;">84</div>
<div id="t119" style="left:366.73px;top:564.72px;font:bold 9.5px/9.5px 'Liberation Sans', sans-serif;color:#231f20;-webkit-text-stroke:0.3px #231f20;">1.</div>
<div id="t120" style="left:377.41px;top:463.50px;font:bold 10px/10px 'Liberation Sans', sans-serif;color:#231f20;transform:scaleX(0.9000);transform-origin:0 0;-webkit-text-stroke:0.25px #231f20;">67</div>
<div id="t121" style="left:378.86px;top:576.31px;font:bold 9.5px/9.5px 'Liberation Sans', sans-serif;color:#231f20;-webkit-text-stroke:0.3px #231f20;">2.</div>
<div id="t122" style="left:389.54px;top:499.91px;font:bold 10px/10px 'Liberation Sans', sans-serif;color:#231f20;transform:scaleX(0.9000);transform-origin:0 0;-webkit-text-stroke:0.25px #231f20;">39</div>
<div id="t123" style="left:390.99px;top:564.72px;font:bold 9.5px/9.5px 'Liberation Sans', sans-serif;color:#231f20;-webkit-text-stroke:0.3px #231f20;">3.</div>
<div id="t124" style="left:401.67px;top:527.21px;font:bold 10px/10px 'Liberation Sans', sans-serif;color:#231f20;transform:scaleX(0.9000);transform-origin:0 0;-webkit-text-stroke:0.25px #231f20;">18</div>
<div id="t125" style="left:403.12px;top:576.31px;font:bold 9.5px/9.5px 'Liberation Sans', sans-serif;color:#231f20;-webkit-text-stroke:0.3px #231f20;">4.</div>
<div id="t126" style="left:413.80px;top:522.00px;font:bold 10px/10px 'Liberation Sans', sans-serif;color:#231f20;transform:scaleX(0.9000);transform-origin:0 0;-webkit-text-stroke:0.25px #231f20;">22</div>
<div id="t127" style="left:415.25px;top:564.72px;font:bold 9.5px/9.5px 'Liberation Sans', sans-serif;color:#231f20;-webkit-text-stroke:0.3px #231f20;">5.</div>
<div id="t128" style="left:425.93px;top:531.11px;font:bold 10px/10px 'Liberation Sans', sans-serif;color:#231f20;transform:scaleX(0.9000);transform-origin:0 0;-webkit-text-stroke:0.25px #231f20;">15</div>
<div id="t129" style="left:427.38px;top:576.31px;font:bold 9.5px/9.5px 'Liberation Sans', sans-serif;color:#231f20;-webkit-text-stroke:0.3px #231f20;">6.</div>
<div id="t130" style="left:440.56px;top:552.30px;font:bold 10px/10px 'Liberation Sans', sans-serif;color:#231f20;transform:scaleX(0.9000);transform-origin:0 0;-webkit-text-stroke:0.25px #231f20;">0</div>
<div id="t131" style="left:439.51px;top:564.72px;font:bold 9.5px/9.5px 'Liberation Sans', sans-serif;color:#231f20;-webkit-text-stroke:0.3px #231f20;">7.</div>
<div id="t132" style="left:374.20px;top:595.50px;font:bold 10.5px/10.5px 'Liberation Sans', sans-serif;color:#8a9397;transform:scaleX(1.0815);transform-origin:0 0;-webkit-text-stroke:0.3px #8a9397;">50–59 LAT</div>
<div id="t133" style="left:470.24px;top:455.71px;font:bold 10px/10px 'Liberation Sans', sans-serif;color:#231f20;transform:scaleX(0.9000);transform-origin:0 0;-webkit-text-stroke:0.25px #231f20;">73</div>
<div id="t134" style="left:471.69px;top:564.72px;font:bold 9.5px/9.5px 'Liberation Sans', sans-serif;color:#231f20;-webkit-text-stroke:0.3px #231f20;">1.</div>
<div id="t135" style="left:482.37px;top:489.50px;font:bold 10px/10px 'Liberation Sans', sans-serif;color:#231f20;transform:scaleX(0.9000);transform-origin:0 0;-webkit-text-stroke:0.25px #231f20;">47</div>
<div id="t136" style="left:483.82px;top:576.31px;font:bold 9.5px/9.5px 'Liberation Sans', sans-serif;color:#231f20;-webkit-text-stroke:0.3px #231f20;">2.</div>
<div id="t137" style="left:494.50px;top:520.71px;font:bold 10px/10px 'Liberation Sans', sans-serif;color:#231f20;transform:scaleX(0.9000);transform-origin:0 0;-webkit-text-stroke:0.25px #231f20;">23</div>
<div id="t138" style="left:495.95px;top:564.72px;font:bold 9.5px/9.5px 'Liberation Sans', sans-serif;color:#231f20;-webkit-text-stroke:0.3px #231f20;">3.</div>
<div id="t139" style="left:506.63px;top:489.50px;font:bold 10px/10px 'Liberation Sans', sans-serif;color:#231f20;transform:scaleX(0.9000);transform-origin:0 0;-webkit-text-stroke:0.25px #231f20;">47</div>
<div id="t140" style="left:508.08px;top:576.31px;font:bold 9.5px/9.5px 'Liberation Sans', sans-serif;color:#231f20;-webkit-text-stroke:0.3px #231f20;">4.</div>
<div id="t141" style="left:518.76px;top:516.80px;font:bold 10px/10px 'Liberation Sans', sans-serif;color:#231f20;transform:scaleX(0.9000);transform-origin:0 0;-webkit-text-stroke:0.25px #231f20;">26</div>
<div id="t142" style="left:520.21px;top:564.72px;font:bold 9.5px/9.5px 'Liberation Sans', sans-serif;color:#231f20;-webkit-text-stroke:0.3px #231f20;">5.</div>
<div id="t143" style="left:530.89px;top:528.50px;font:bold 10px/10px 'Liberation Sans', sans-serif;color:#231f20;transform:scaleX(0.9000);transform-origin:0 0;-webkit-text-stroke:0.25px #231f20;">17</div>
<div id="t144" style="left:532.34px;top:576.31px;font:bold 9.5px/9.5px 'Liberation Sans', sans-serif;color:#231f20;-webkit-text-stroke:0.3px #231f20;">6.</div>
<div id="t145" style="left:543.02px;top:535.00px;font:bold 10px/10px 'Liberation Sans', sans-serif;color:#231f20;transform:scaleX(0.9000);transform-origin:0 0;-webkit-text-stroke:0.25px #231f20;">12</div>
<div id="t146" style="left:544.47px;top:564.72px;font:bold 9.5px/9.5px 'Liberation Sans', sans-serif;color:#231f20;-webkit-text-stroke:0.3px #231f20;">7.</div>
<div id="t147" style="left:480.70px;top:595.50px;font:bold 10.5px/10.5px 'Liberation Sans', sans-serif;color:#8a9397;transform:scaleX(1.1331);transform-origin:0 0;-webkit-text-stroke:0.3px #8a9397;">60–69 LAT</div>
<div id="t148" style="left:575.20px;top:490.80px;font:bold 10px/10px 'Liberation Sans', sans-serif;color:#231f20;transform:scaleX(0.9000);transform-origin:0 0;-webkit-text-stroke:0.25px #231f20;">46</div>
<div id="t149" style="left:576.65px;top:564.72px;font:bold 9.5px/9.5px 'Liberation Sans', sans-serif;color:#231f20;-webkit-text-stroke:0.3px #231f20;">1.</div>
<div id="t150" style="left:587.33px;top:481.71px;font:bold 10px/10px 'Liberation Sans', sans-serif;color:#231f20;transform:scaleX(0.9000);transform-origin:0 0;-webkit-text-stroke:0.25px #231f20;">53</div>
<div id="t151" style="left:588.78px;top:576.31px;font:bold 9.5px/9.5px 'Liberation Sans', sans-serif;color:#231f20;-webkit-text-stroke:0.3px #231f20;">2.</div>
<div id="t152" style="left:599.46px;top:518.11px;font:bold 10px/10px 'Liberation Sans', sans-serif;color:#231f20;transform:scaleX(0.9000);transform-origin:0 0;-webkit-text-stroke:0.25px #231f20;">25</div>
<div id="t153" style="left:600.91px;top:564.72px;font:bold 9.5px/9.5px 'Liberation Sans', sans-serif;color:#231f20;-webkit-text-stroke:0.3px #231f20;">3.</div>
<div id="t154" style="left:611.59px;top:515.50px;font:bold 10px/10px 'Liberation Sans', sans-serif;color:#231f20;transform:scaleX(0.9000);transform-origin:0 0;-webkit-text-stroke:0.25px #231f20;">27</div>
<div id="t155" style="left:613.04px;top:576.31px;font:bold 9.5px/9.5px 'Liberation Sans', sans-serif;color:#231f20;-webkit-text-stroke:0.3px #231f20;">4.</div>
<div id="t156" style="left:623.72px;top:510.30px;font:bold 10px/10px 'Liberation Sans', sans-serif;color:#231f20;transform:scaleX(0.9000);transform-origin:0 0;-webkit-text-stroke:0.25px #231f20;">31</div>
<div id="t157" style="left:625.17px;top:564.72px;font:bold 9.5px/9.5px 'Liberation Sans', sans-serif;color:#231f20;-webkit-text-stroke:0.3px #231f20;">5.</div>
<div id="t158" style="left:635.85px;top:522.00px;font:bold 10px/10px 'Liberation Sans', sans-serif;color:#231f20;transform:scaleX(0.9000);transform-origin:0 0;-webkit-text-stroke:0.25px #231f20;">22</div>
<div id="t159" style="left:637.30px;top:576.31px;font:bold 9.5px/9.5px 'Liberation Sans', sans-serif;color:#231f20;-webkit-text-stroke:0.3px #231f20;">6.</div>
<div id="t160" style="left:648.22px;top:536.30px;font:bold 10px/10px 'Liberation Sans', sans-serif;color:#231f20;transform:scaleX(0.9000);transform-origin:0 0;-webkit-text-stroke:0.25px #231f20;">11</div>
<div id="t161" style="left:649.43px;top:564.72px;font:bold 9.5px/9.5px 'Liberation Sans', sans-serif;color:#231f20;-webkit-text-stroke:0.3px #231f20;">7.</div>
<div id="t162" style="left:606.70px;top:595.50px;font:bold 10.5px/10.5px 'Liberation Sans', sans-serif;color:#8a9397;transform:scaleX(1.1199);transform-origin:0 0;-webkit-text-stroke:0.3px #8a9397;">70+</div>
<div id="t163" style="left:50.10px;top:620.60px;font:normal 13px/13px 'Liberation Sans', sans-serif;color:#231f20;transform:scaleX(1.0773);transform-origin:0 0;-webkit-text-stroke:0.2px #231f20;">odpowiedzi według miejsca zamieszkania* (proc.)</div>
<div id="t164" style="left:51.92px;top:671.11px;font:bold 10px/10px 'Liberation Sans', sans-serif;color:#231f20;-webkit-text-stroke:0.25px #231f20;">40</div>
<div id="t165" style="left:52.78px;top:725.00px;font:bold 10.5px/10.5px 'Liberation Sans', sans-serif;color:#231f20;-webkit-text-stroke:0.3px #231f20;">1.</div>
<div id="t166" style="left:70.27px;top:653.38px;font:bold 10px/10px 'Liberation Sans', sans-serif;color:#231f20;-webkit-text-stroke:0.25px #231f20;">58</div>
<div id="t167" style="left:71.13px;top:725.00px;font:bold 10.5px/10.5px 'Liberation Sans', sans-serif;color:#231f20;-webkit-text-stroke:0.3px #231f20;">2.</div>
<div id="t168" style="left:88.62px;top:690.80px;font:bold 10px/10px 'Liberation Sans', sans-serif;color:#231f20;-webkit-text-stroke:0.25px #231f20;">20</div>
<div id="t169" style="left:89.48px;top:725.00px;font:bold 10.5px/10.5px 'Liberation Sans', sans-serif;color:#231f20;-webkit-text-stroke:0.3px #231f20;">3.</div>
<div id="t170" style="left:106.97px;top:677.02px;font:bold 10px/10px 'Liberation Sans', sans-serif;color:#231f20;-webkit-text-stroke:0.25px #231f20;">34</div>
<div id="t171" style="left:107.83px;top:725.00px;font:bold 10.5px/10.5px 'Liberation Sans', sans-serif;color:#231f20;-webkit-text-stroke:0.3px #231f20;">4.</div>
<div id="t172" style="left:125.32px;top:670.12px;font:bold 10px/10px 'Liberation Sans', sans-serif;color:#231f20;-webkit-text-stroke:0.25px #231f20;">41</div>
<div id="t173" style="left:126.18px;top:725.00px;font:bold 10.5px/10.5px 'Liberation Sans', sans-serif;color:#231f20;-webkit-text-stroke:0.3px #231f20;">5.</div>
<div id="t174" style="left:143.67px;top:687.85px;font:bold 10px/10px 'Liberation Sans', sans-serif;color:#231f20;-webkit-text-stroke:0.25px #231f20;">23</div>
<div id="t175" style="left:144.53px;top:725.00px;font:bold 10.5px/10.5px 'Liberation Sans', sans-serif;color:#231f20;-webkit-text-stroke:0.3px #231f20;">6.</div>
<div id="t176" style="left:164.80px;top:708.54px;font:bold 10px/10px 'Liberation Sans', sans-serif;color:#231f20;-webkit-text-stroke:0.25px #231f20;">2</div>
<div id="t177" style="left:162.88px;top:725.00px;font:bold 10.5px/10.5px 'Liberation Sans', sans-serif;color:#231f20;-webkit-text-stroke:0.3px #231f20;">7.</div>
<div id="t178" style="left:98.50px;top:644.90px;font:bold 11px/11px 'Liberation Sans', sans-serif;color:#8a9397;transform:scaleX(1.0256);transform-origin:0 0;-webkit-text-stroke:0.3px #8a9397;">WIEŚ</div>
<div id="t179" style="left:212.37px;top:637.61px;font:bold 10px/10px 'Liberation Sans', sans-serif;color:#231f20;-webkit-text-stroke:0.25px #231f20;">74</div>
<div id="t180" style="left:213.23px;top:725.00px;font:bold 10.5px/10.5px 'Liberation Sans', sans-serif;color:#231f20;-webkit-text-stroke:0.3px #231f20;">1.</div>
<div id="t181" style="left:230.72px;top:665.19px;font:bold 10px/10px 'Liberation Sans', sans-serif;color:#231f20;-webkit-text-stroke:0.25px #231f20;">46</div>
<div id="t182" style="left:231.58px;top:725.00px;font:bold 10.5px/10.5px 'Liberation Sans', sans-serif;color:#231f20;-webkit-text-stroke:0.3px #231f20;">2.</div>
<div id="t183" style="left:249.07px;top:675.05px;font:bold 10px/10px 'Liberation Sans', sans-serif;color:#231f20;-webkit-text-stroke:0.25px #231f20;">36</div>
<div id="t184" style="left:249.93px;top:725.00px;font:bold 10.5px/10.5px 'Liberation Sans', sans-serif;color:#231f20;-webkit-text-stroke:0.3px #231f20;">3.</div>
<div id="t185" style="left:267.42px;top:677.02px;font:bold 10px/10px 'Liberation Sans', sans-serif;color:#231f20;-webkit-text-stroke:0.25px #231f20;">34</div>
<div id="t186" style="left:268.28px;top:725.00px;font:bold 10.5px/10.5px 'Liberation Sans', sans-serif;color:#231f20;-webkit-text-stroke:0.3px #231f20;">4.</div>
<div id="t187" style="left:285.77px;top:695.73px;font:bold 10px/10px 'Liberation Sans', sans-serif;color:#231f20;-webkit-text-stroke:0.25px #231f20;">15</div>
<div id="t188" style="left:286.63px;top:725.00px;font:bold 10.5px/10.5px 'Liberation Sans', sans-serif;color:#231f20;-webkit-text-stroke:0.3px #231f20;">5.</div>
<div id="t189" style="left:304.39px;top:699.67px;font:bold 10px/10px 'Liberation Sans', sans-serif;color:#231f20;-webkit-text-stroke:0.25px #231f20;">11</div>
<div id="t190" style="left:304.98px;top:725.00px;font:bold 10.5px/10.5px 'Liberation Sans', sans-serif;color:#231f20;-webkit-text-stroke:0.3px #231f20;">6.</div>
<div id="t191" style="left:322.47px;top:694.75px;font:bold 10px/10px 'Liberation Sans', sans-serif;color:#231f20;-webkit-text-stroke:0.25px #231f20;">16</div>
<div id="t192" style="left:323.33px;top:725.00px;font:bold 10.5px/10.5px 'Liberation Sans', sans-serif;color:#231f20;-webkit-text-stroke:0.3px #231f20;">7.</div>
<div id="t193" style="left:243.70px;top:643.40px;font:bold 11px/11px 'Liberation Sans', sans-serif;color:#8a9397;transform:scaleX(1.0396);transform-origin:0 0;-webkit-text-stroke:0.3px #8a9397;">MAŁE MIASTO</div>
<div id="t194" style="left:372.82px;top:624.81px;font:bold 10px/10px 'Liberation Sans', sans-serif;color:#231f20;-webkit-text-stroke:0.25px #231f20;">87</div>
<div id="t195" style="left:373.68px;top:725.00px;font:bold 10.5px/10.5px 'Liberation Sans', sans-serif;color:#231f20;-webkit-text-stroke:0.3px #231f20;">1.</div>
<div id="t196" style="left:391.17px;top:654.35px;font:bold 10px/10px 'Liberation Sans', sans-serif;color:#231f20;-webkit-text-stroke:0.25px #231f20;">57</div>
<div id="t197" style="left:392.03px;top:725.00px;font:bold 10.5px/10.5px 'Liberation Sans', sans-serif;color:#231f20;-webkit-text-stroke:0.3px #231f20;">2.</div>
<div id="t198" style="left:409.52px;top:670.12px;font:bold 10px/10px 'Liberation Sans', sans-serif;color:#231f20;-webkit-text-stroke:0.25px #231f20;">41</div>
<div id="t199" style="left:410.38px;top:725.00px;font:bold 10.5px/10.5px 'Liberation Sans', sans-serif;color:#231f20;-webkit-text-stroke:0.3px #231f20;">3.</div>
<div id="t200" style="left:427.87px;top:683.92px;font:bold 10px/10px 'Liberation Sans', sans-serif;color:#231f20;-webkit-text-stroke:0.25px #231f20;">27</div>
<div id="t201" style="left:428.73px;top:725.00px;font:bold 10.5px/10.5px 'Liberation Sans', sans-serif;color:#231f20;-webkit-text-stroke:0.3px #231f20;">4.</div>
<div id="t202" style="left:446.22px;top:697.70px;font:bold 10px/10px 'Liberation Sans', sans-serif;color:#231f20;-webkit-text-stroke:0.25px #231f20;">13</div>
<div id="t203" style="left:447.08px;top:725.00px;font:bold 10.5px/10.5px 'Liberation Sans', sans-serif;color:#231f20;-webkit-text-stroke:0.3px #231f20;">5.</div>
<div id="t204" style="left:464.57px;top:685.88px;font:bold 10px/10px 'Liberation Sans', sans-serif;color:#231f20;-webkit-text-stroke:0.25px #231f20;">25</div>
<div id="t205" style="left:465.43px;top:725.00px;font:bold 10.5px/10.5px 'Liberation Sans', sans-serif;color:#231f20;-webkit-text-stroke:0.3px #231f20;">6.</div>
<div id="t206" style="left:482.92px;top:689.82px;font:bold 10px/10px 'Liberation Sans', sans-serif;color:#231f20;-webkit-text-stroke:0.25px #231f20;">21</div>
<div id="t207" style="left:483.78px;top:725.00px;font:bold 10.5px/10.5px 'Liberation Sans', sans-serif;color:#231f20;-webkit-text-stroke:0.3px #231f20;">7.</div>
<div id="t208" style="left:395.70px;top:637.60px;font:bold 11px/11px 'Liberation Sans', sans-serif;color:#8a9397;transform:scaleX(1.0350);transform-origin:0 0;-webkit-text-stroke:0.3px #8a9397;">ŚREDNIE MIASTO</div>
<div id="t209" style="left:533.27px;top:639.58px;font:bold 10px/10px 'Liberation Sans', sans-serif;color:#231f20;-webkit-text-stroke:0.25px #231f20;">72</div>
<div id="t210" style="left:534.13px;top:725.00px;font:bold 10.5px/10.5px 'Liberation Sans', sans-serif;color:#231f20;-webkit-text-stroke:0.3px #231f20;">1.</div>
<div id="t211" style="left:551.62px;top:638.60px;font:bold 10px/10px 'Liberation Sans', sans-serif;color:#231f20;-webkit-text-stroke:0.25px #231f20;">73</div>
<div id="t212" style="left:552.48px;top:725.00px;font:bold 10.5px/10.5px 'Liberation Sans', sans-serif;color:#231f20;-webkit-text-stroke:0.3px #231f20;">2.</div>
<div id="t213" style="left:569.97px;top:663.22px;font:bold 10px/10px 'Liberation Sans', sans-serif;color:#231f20;-webkit-text-stroke:0.25px #231f20;">48</div>
<div id="t214" style="left:570.83px;top:725.00px;font:bold 10.5px/10.5px 'Liberation Sans', sans-serif;color:#231f20;-webkit-text-stroke:0.3px #231f20;">3.</div>
<div id="t215" style="left:588.32px;top:688.83px;font:bold 10px/10px 'Liberation Sans', sans-serif;color:#231f20;-webkit-text-stroke:0.25px #231f20;">22</div>
<div id="t216" style="left:589.18px;top:725.00px;font:bold 10.5px/10.5px 'Liberation Sans', sans-serif;color:#231f20;-webkit-text-stroke:0.3px #231f20;">4.</div>
<div id="t217" style="left:606.67px;top:691.80px;font:bold 10px/10px 'Liberation Sans', sans-serif;color:#231f20;-webkit-text-stroke:0.25px #231f20;">19</div>
<div id="t218" style="left:607.53px;top:725.00px;font:bold 10.5px/10.5px 'Liberation Sans', sans-serif;color:#231f20;-webkit-text-stroke:0.3px #231f20;">5.</div>
<div id="t219" style="left:625.02px;top:690.80px;font:bold 10px/10px 'Liberation Sans', sans-serif;color:#231f20;-webkit-text-stroke:0.25px #231f20;">20</div>
<div id="t220" style="left:625.88px;top:725.00px;font:bold 10.5px/10.5px 'Liberation Sans', sans-serif;color:#231f20;-webkit-text-stroke:0.3px #231f20;">6.</div>
<div id="t221" style="left:646.15px;top:708.54px;font:bold 10px/10px 'Liberation Sans', sans-serif;color:#231f20;-webkit-text-stroke:0.25px #231f20;">2</div>
<div id="t222" style="left:644.23px;top:725.00px;font:bold 10.5px/10.5px 'Liberation Sans', sans-serif;color:#231f20;-webkit-text-stroke:0.3px #231f20;">7.</div>
<div id="t223" style="left:575.60px;top:637.60px;font:bold 11px/11px 'Liberation Sans', sans-serif;color:#8a9397;transform:scaleX(1.0471);transform-origin:0 0;-webkit-text-stroke:0.3px #8a9397;">DUŻE MIASTO</div>
<div id="t224" style="left:42.40px;top:746.40px;font:normal 10.5px/10.5px 'Liberation Sans', sans-serif;color:#231f20;transform:scaleX(0.9250);transform-origin:0 0;-webkit-text-stroke:0.2px #231f20;"><span style="font-size:0.8em;vertical-align:0.25em">*</span> <b>małe miasto</b> – do 50 tys. mieszkańców, <b>średnie miasto</b> – od 50 tys. do 250 tys., <b>duże miasto</b> – powyżej 250 tys.</div>
<div id="t225" style="left:626.00px;top:749.71px;font:bold 6.8px/6.8px 'Liberation Sans', sans-serif;color:#231f20;transform:scaleX(0.9435);transform-origin:0 0;">RM</div>
</body></html>
